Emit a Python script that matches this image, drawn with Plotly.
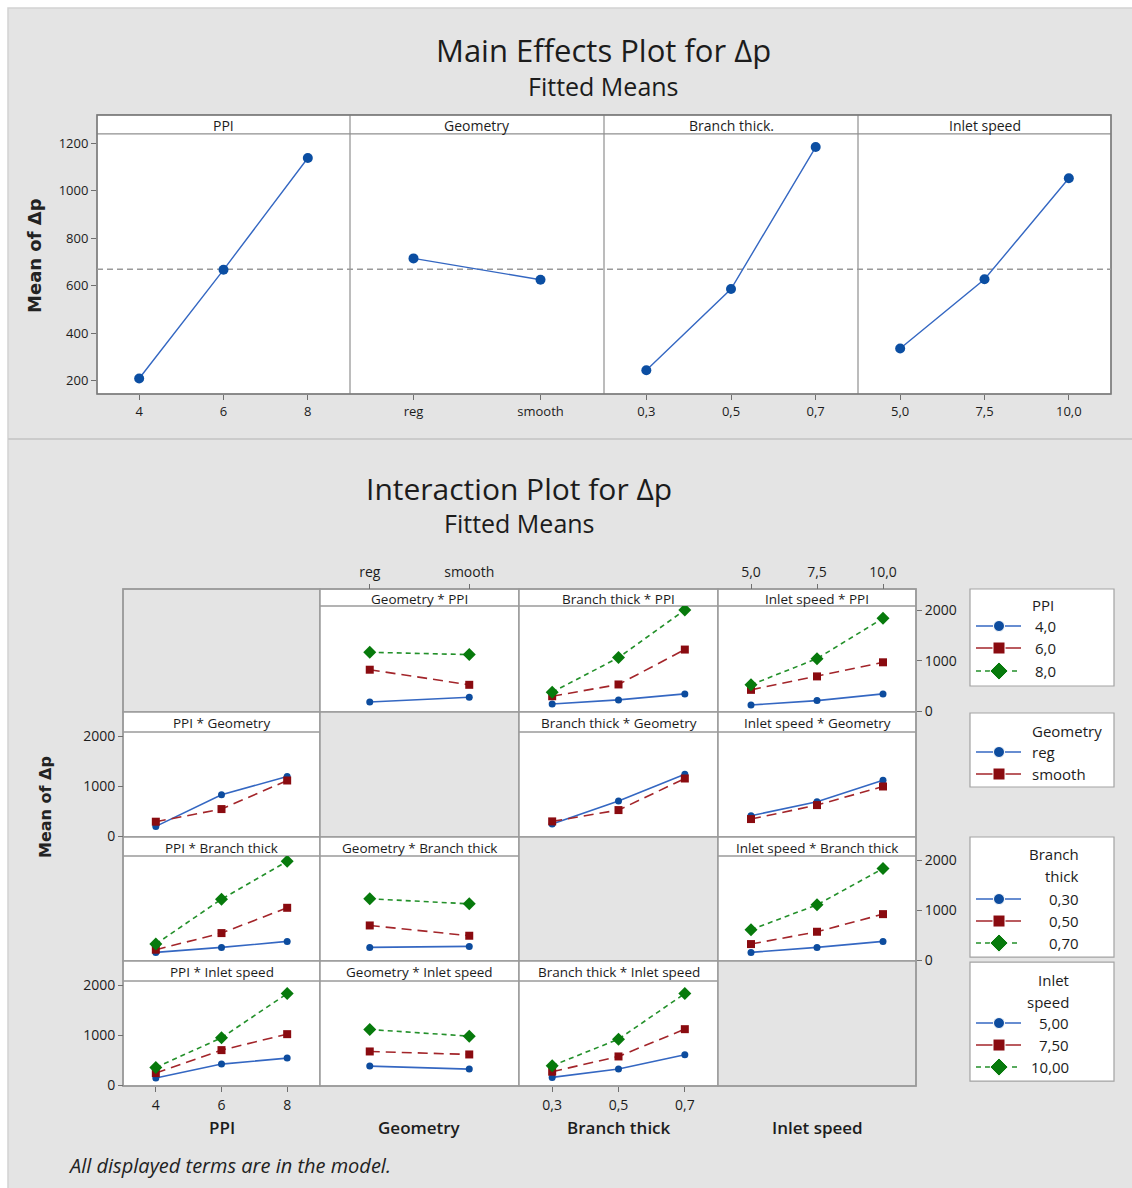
import plotly.graph_objects as go

W, H = 1132, 1188

# ---- factor levels and their printed labels ----
PPI_LEVELS = [4, 6, 8]
GEOMETRY_LEVELS = ["reg", "smooth"]
BRANCH_LEVELS = [0.3, 0.5, 0.7]
INLET_LEVELS = [5.0, 7.5, 10.0]

PPI_TICKS = ["4", "6", "8"]
GEOMETRY_TICKS = ["reg", "smooth"]
BRANCH_TICKS = ["0,3", "0,5", "0,7"]
INLET_TICKS = ["5,0", "7,5", "10,0"]

PPI_LEGEND = ["4,0", "6,0", "8,0"]
GEOMETRY_LEGEND = ["reg", "smooth"]
BRANCH_LEGEND = ["0,30", "0,50", "0,70"]
INLET_LEGEND = ["5,00", "7,50", "10,00"]

# ---- main effects: fitted means of Δp ----
MAIN_PPI = [210, 667, 1137]
MAIN_GEOMETRY = [715, 625]
MAIN_BRANCH = [245, 586, 1183]
MAIN_INLET = [336, 627, 1052]
OVERALL_MEAN = 669

# ---- interaction means: one row per level of the trace factor ----
GEOMETRY_BY_PPI = [[180, 274], [820, 520], [1166, 1120]]
BRANCH_BY_PPI = [[140, 220, 340], [293, 527, 1220], [373, 1060, 2007]]
INLET_BY_PPI = [[120, 207, 340], [420, 687, 967], [520, 1040, 1840]]
PPI_BY_GEOMETRY = [[193, 827, 1193], [287, 540, 1113]]
BRANCH_BY_GEOMETRY = [[240, 700, 1240], [293, 520, 1153]]
INLET_BY_GEOMETRY = [[407, 687, 1120], [340, 620, 993]]
PPI_BY_BRANCH = [[153, 253, 373], [207, 540, 1047], [320, 1220, 1980]]
GEOMETRY_BY_BRANCH = [[253, 273], [693, 487], [1227, 1127]]
INLET_BY_BRANCH = [[153, 253, 373], [320, 567, 920], [607, 1107, 1833]]
PPI_BY_INLET = [[140, 420, 540], [240, 700, 1020], [353, 947, 1833]]
GEOMETRY_BY_INLET = [[380, 320], [673, 613], [1113, 980]]
BRANCH_BY_INLET = [[153, 320, 607], [267, 573, 1120], [387, 920, 1833]]

FACTORS = ["PPI", "Geometry", "Branch thick", "Inlet speed"]
LEVELS = {"PPI": PPI_LEVELS, "Geometry": GEOMETRY_LEVELS,
          "Branch thick": BRANCH_LEVELS, "Inlet speed": INLET_LEVELS}
TICKS = {"PPI": PPI_TICKS, "Geometry": GEOMETRY_TICKS,
         "Branch thick": BRANCH_TICKS, "Inlet speed": INLET_TICKS}
MAIN = {"PPI": MAIN_PPI, "Geometry": MAIN_GEOMETRY,
        "Branch thick": MAIN_BRANCH, "Inlet speed": MAIN_INLET}
INTERACTION = {
    ("Geometry", "PPI"): GEOMETRY_BY_PPI,
    ("Branch thick", "PPI"): BRANCH_BY_PPI,
    ("Inlet speed", "PPI"): INLET_BY_PPI,
    ("PPI", "Geometry"): PPI_BY_GEOMETRY,
    ("Branch thick", "Geometry"): BRANCH_BY_GEOMETRY,
    ("Inlet speed", "Geometry"): INLET_BY_GEOMETRY,
    ("PPI", "Branch thick"): PPI_BY_BRANCH,
    ("Geometry", "Branch thick"): GEOMETRY_BY_BRANCH,
    ("Inlet speed", "Branch thick"): INLET_BY_BRANCH,
    ("PPI", "Inlet speed"): PPI_BY_INLET,
    ("Geometry", "Inlet speed"): GEOMETRY_BY_INLET,
    ("Branch thick", "Inlet speed"): BRANCH_BY_INLET,
}
LEGENDS = [("PPI", ["PPI"], PPI_LEGEND),
           ("Geometry", ["Geometry"], GEOMETRY_LEGEND),
           ("Branch thick", ["Branch", "thick"], BRANCH_LEGEND),
           ("Inlet speed", ["Inlet", "speed"], INLET_LEGEND)]

X_RANGE = {"PPI": [3, 9], "Geometry": [-0.5, 1.5],
           "Branch thick": [0.2, 0.8], "Inlet speed": [3.75, 11.25]}

FONT = "Open Sans"
INK = "#1c1c1c"
BG = "#e4e4e4"
FRAME = "#8f8f8f"

STYLES = [
    dict(line="#3467c2", marker="#0d4c9e", dash="solid", symbol="circle", size=7),
    dict(line="#a3252a", marker="#8a0b10", dash="10px,6px", symbol="square", size=8),
    dict(line="#23902a", marker="#077a0c", dash="5px,4px", symbol="diamond", size=10),
]

# vertical layout stretch about the page centre (keeps the page's
# vertical proportions once displayed)
V_STRETCH = 1.012


def px(x):
    return x / W


def py(y):
    yy = H / 2 + (y - H / 2) * V_STRETCH
    return 1 - yy / H


fig = go.Figure()
shapes = []
annotations = []


def rect(x0, y0, x1, y1, fill=None, line=FRAME, width=1.2, layer="below"):
    shapes.append(dict(type="rect", xref="paper", yref="paper",
                       x0=px(x0), x1=px(x1), y0=py(y1), y1=py(y0),
                       fillcolor=fill or "rgba(0,0,0,0)",
                       line=dict(color=line, width=width), layer=layer))


def hline(x0, x1, y, color=FRAME, width=1.2, dash="solid"):
    shapes.append(dict(type="line", xref="paper", yref="paper",
                       x0=px(x0), x1=px(x1), y0=py(y), y1=py(y),
                       line=dict(color=color, width=width, dash=dash), layer="below"))


def vline(x, y0, y1, color=FRAME, width=1.2):
    shapes.append(dict(type="line", xref="paper", yref="paper",
                       x0=px(x), x1=px(x), y0=py(y0), y1=py(y1),
                       line=dict(color=color, width=width), layer="below"))


def label(x, y, s, size, xanchor="center", color=INK, family=FONT, weight=400, angle=0):
    annotations.append(dict(x=px(x), y=py(y), xref="paper", yref="paper", text=s,
                            showarrow=False, xanchor=xanchor, yanchor="middle",
                            textangle=angle,
                            font=dict(size=size, color=color, family=family, weight=weight)))


# page background and separator
rect(8, 9, W + 2, H + 8, fill=BG, line="#d2d2d2", width=1.5)
hline(8, W, 440, color="#cbcbcb", width=2)

# ================= Main effects =================
ME_EDGES = [97, 350, 604, 858, 1111]
ME_STRIP_TOP, ME_TOP, ME_BOTTOM = 116, 135, 395

rect(ME_EDGES[0], ME_STRIP_TOP, ME_EDGES[-1], ME_BOTTOM, fill="white")
hline(ME_EDGES[0], ME_EDGES[-1], ME_TOP)
for xe in ME_EDGES[1:-1]:
    vline(xe, ME_STRIP_TOP, ME_BOTTOM)
rect(ME_EDGES[0], ME_STRIP_TOP, ME_EDGES[-1], ME_BOTTOM, line="#7a7a7a", width=1.4)

layout_axes = {}
for i, f in enumerate(FACTORS):
    name = "xaxis" if i == 0 else f"xaxis{i + 1}"
    ax = dict(domain=[px(ME_EDGES[i]), px(ME_EDGES[i + 1])], anchor="y",
              range=X_RANGE[f], showgrid=False, zeroline=False, showline=False,
              ticks="outside", ticklen=5, tickcolor="#6f6f6f",
              tickfont=dict(size=13, color=INK, family=FONT, weight=500))
    if f == "Geometry":
        ax.update(type="category", categoryorder="array", categoryarray=LEVELS[f])
    else:
        ax.update(tickmode="array", tickvals=LEVELS[f], ticktext=TICKS[f])
    layout_axes[name] = ax
    label((ME_EDGES[i] + ME_EDGES[i + 1]) / 2, (ME_STRIP_TOP + ME_TOP) / 2 + 1,
          f if f != "Branch thick" else "Branch thick.", 14, weight=500)

    xref = "x" if i == 0 else f"x{i + 1}"
    fig.add_trace(go.Scatter(
        x=LEVELS[f], y=MAIN[f], xaxis=xref, yaxis="y", mode="lines+markers",
        line=dict(color="#3467c2", width=1.4),
        marker=dict(color="#0b4ea2", size=10, symbol="circle"),
        showlegend=False, hoverinfo="skip"))

layout_axes["yaxis"] = dict(domain=[py(ME_BOTTOM), py(ME_TOP)], anchor="x",
                            range=[145, 1238], tickvals=[200, 400, 600, 800, 1000, 1200],
                            showgrid=False, zeroline=False, showline=False,
                            ticks="outside", ticklen=5, tickcolor="#6f6f6f",
                            tickfont=dict(size=13, color=INK, family=FONT, weight=500))

shapes.append(dict(type="line", xref="paper", yref="y", x0=px(ME_EDGES[0]), x1=px(ME_EDGES[-1]),
                   y0=OVERALL_MEAN, y1=OVERALL_MEAN,
                   line=dict(color="#9a9a9a", width=1.5, dash="6px,4px"), layer="below"))

label(603, 51, "Main Effects Plot for Δp", 31, weight=500)
label(603, 87, "Fitted Means", 25, weight=500)
label(35, 257, "Mean of Δp", 18, family="DejaVu Sans", weight=700, angle=-90, color="#222")

# ================= Interaction plot =================
COL_EDGES = [123, 320, 519, 718, 916]
ROW_STRIP = [590, 713, 838, 962]
ROW_TOP = [607, 733, 857, 982]
ROW_BOTTOM = [713, 838, 962, 1087]
Y_RANGE = [-20, 2085]

for r in range(4):
    for c in range(4):
        x0, x1 = COL_EDGES[c], COL_EDGES[c + 1]
        if r == c:
            rect(x0, ROW_STRIP[r], x1, ROW_BOTTOM[r], fill=BG, line="#9a9a9a", width=1.5)
        else:
            rect(x0, ROW_STRIP[r], x1, ROW_BOTTOM[r], fill="white", line="#9a9a9a", width=1.5)
            hline(x0, x1, ROW_TOP[r], color="#9a9a9a", width=1.5)
            label((x0 + x1) / 2, (ROW_STRIP[r] + ROW_TOP[r]) / 2 + 1,
                  f"{FACTORS[c]} * {FACTORS[r]}", 13.5)
rect(COL_EDGES[0], ROW_STRIP[0], COL_EDGES[-1], ROW_BOTTOM[-1], line="#9a9a9a", width=1.5)

for c, f in enumerate(FACTORS):
    top = c in (1, 3)
    ax = dict(domain=[px(COL_EDGES[c]), px(COL_EDGES[c + 1])], anchor="free",
              position=py(ROW_STRIP[0]) if top else py(ROW_BOTTOM[-1]),
              side="top" if top else "bottom",
              range=X_RANGE[f], showgrid=False, zeroline=False, showline=False,
              ticks="outside", ticklen=5, tickcolor="#6f6f6f",
              ticklabelstandoff=1,
              tickfont=dict(size=14, color=INK, family=FONT, weight=500))
    if f == "Geometry":
        ax.update(type="category", categoryorder="array", categoryarray=LEVELS[f])
    else:
        ax.update(tickmode="array", tickvals=LEVELS[f], ticktext=TICKS[f])
    layout_axes[f"xaxis{5 + c}"] = ax
    label((COL_EDGES[c] + COL_EDGES[c + 1]) / 2, 1128, f, 17, weight=600)

for r in range(4):
    right = r in (0, 2)
    layout_axes[f"yaxis{5 + r}"] = dict(
        domain=[py(ROW_BOTTOM[r]), py(ROW_TOP[r])], anchor="free",
        position=px(COL_EDGES[-1]) if right else px(COL_EDGES[0]),
        side="right" if right else "left", range=Y_RANGE,
        tickvals=[0, 1000, 2000], showgrid=False, zeroline=False, showline=False,
        ticks="outside", ticklen=5, tickcolor="#6f6f6f",
        tickfont=dict(size=14, color=INK, family=FONT, weight=500))

for (xf, tf), rows in INTERACTION.items():
    c = FACTORS.index(xf)
    r = FACTORS.index(tf)
    for k, vals in enumerate(rows):
        st = STYLES[k]
        fig.add_trace(go.Scatter(
            x=LEVELS[xf], y=vals, xaxis=f"x{5 + c}", yaxis=f"y{5 + r}",
            mode="lines+markers",
            line=dict(color=st["line"], width=1.6, dash=st["dash"]),
            marker=dict(color=st["marker"], size=st["size"], symbol=st["symbol"]),
            showlegend=False, hoverinfo="skip"))

label(519, 490, "Interaction Plot for Δp", 30, weight=500)
label(519, 524, "Fitted Means", 25, weight=500)
label(45, 808, "Mean of Δp", 16, family="DejaVu Sans", weight=700, angle=-90, color="#222")

# ---- legend boxes ----
LEG_BOX = [(590, 687), (714, 788), (838, 958), (963, 1082)]
LEG_TITLE_Y = [[606], [732], [855, 877], [981, 1003]]
LEG_ITEM_Y = [[627, 649, 672], [753, 775], [900, 922, 944], [1024, 1046, 1068]]
LEG_TEXT_X = [(1033, "left"), (1030, "left"), (1081, "right"), (1071, "right")]
LEG_TITLE_X = [(1030, "left"), (1030, "left"), (1081, "right"), (1071, "right")]

sym_x, sym_y, sym_color, sym_symbol, sym_size = [], [], [], [], []
for j, (name, title_lines, items) in enumerate(LEGENDS):
    y0, y1 = LEG_BOX[j]
    rect(970, y0, 1114, y1, fill="white", line="#a3a3a3", width=1.2)
    for t, ty in zip(title_lines, LEG_TITLE_Y[j]):
        label(LEG_TITLE_X[j][0], ty, t, 15, xanchor=LEG_TITLE_X[j][1], weight=500)
    for k, (txt, iy) in enumerate(zip(items, LEG_ITEM_Y[j])):
        st = STYLES[k]
        hline(976, 1021, iy, color=st["line"], width=1.6,
              dash="solid" if k < 2 else "5px,4px")
        label(LEG_TEXT_X[j][0], iy, txt, 15, xanchor=LEG_TEXT_X[j][1], weight=500)
        sym_x.append(999)
        sym_y.append(H - py(iy) * H)
        sym_color.append(st["marker"])
        sym_symbol.append(st["symbol"])
        sym_size.append(st["size"] + 4)

fig.add_trace(go.Scatter(x=sym_x, y=sym_y, xaxis="x9", yaxis="y9", mode="markers",
                         marker=dict(color=sym_color, symbol=sym_symbol, size=sym_size,
                                     opacity=1),
                         showlegend=False, hoverinfo="skip"))
layout_axes["xaxis9"] = dict(domain=[0, 1], range=[0, W], visible=False, anchor="y9")
layout_axes["yaxis9"] = dict(domain=[0, 1], range=[H, 0], visible=False, anchor="x9")

# footnote
label(66, 1166, "<i>All displayed terms are in the model.</i>", 20, xanchor="left", color="#222")

fig.update_layout(
    width=W, height=H, autosize=False,
    margin=dict(l=0, r=0, t=0, b=0),
    paper_bgcolor="white", plot_bgcolor="rgba(0,0,0,0)",
    showlegend=False,
    shapes=shapes, annotations=annotations,
    font=dict(family=FONT, color=INK),
    **layout_axes,
)

fig.write_html("out.html")
